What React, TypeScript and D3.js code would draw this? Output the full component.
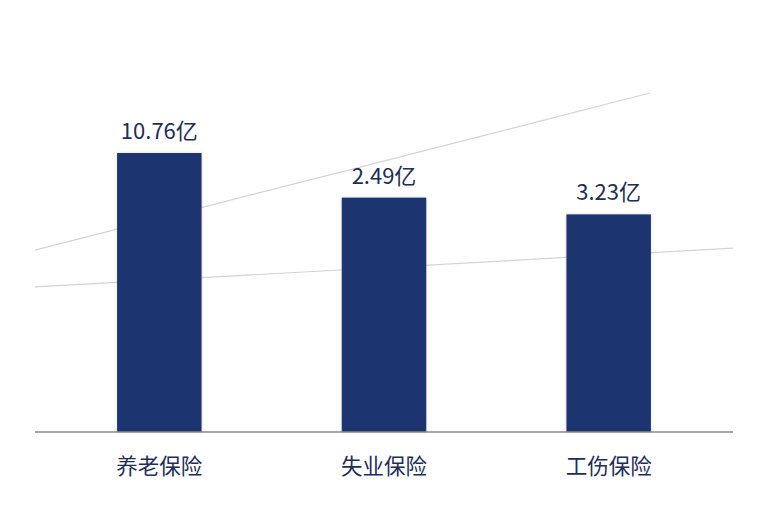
import { useEffect, useRef } from 'react'
import * as d3 from 'd3'

// categories and their labels
const categories = ['养老保险', '失业保险', '工伤保险']
const valueLabels = ['10.76亿', '2.49亿', '3.23亿']
// bar heights as drawn in the picture (relative index, tallest = 100)
const barLevels = [100, 84, 78]

// two thin decorative guide lines: [xFraction, level] endpoints
const guideLineA = [[0, 65.2], [0.881, 121.5]]
const guideLineB = [[0, 52.0], [1, 65.9]]

const WIDTH = 768
const HEIGHT = 512
const BAR_COLOR = '#1f3671'
const TEXT_COLOR = '#1d2d5c'
const FONT = '"Noto Sans CJK SC", "Noto Sans", sans-serif'

export default function App() {
  const svgRef = useRef<SVGSVGElement>(null)

  useEffect(() => {
    if (!svgRef.current) return
    const svg = d3.select(svgRef.current)
    svg.selectAll('*').remove()

    const left = 35
    const right = 733
    const baseline = 432

    const xBand = d3.scaleBand<string>()
      .domain(categories)
      .range([47, 721])
      .paddingInner(0.624)
      .paddingOuter(0.312)

    const xLine = d3.scaleLinear().domain([0, 1]).range([left, right])

    const yScale = d3.scaleLinear()
      .domain([0, 100])
      .range([baseline, 153])

    // soft shadow for bars
    const defs = svg.append('defs')
    const filter = defs.append('filter')
      .attr('id', 'barShadow')
      .attr('x', '-20%').attr('y', '-20%')
      .attr('width', '140%').attr('height', '140%')
    filter.append('feDropShadow')
      .attr('dx', 0).attr('dy', 0)
      .attr('stdDeviation', 1.5)
      .attr('flood-color', '#000')
      .attr('flood-opacity', 0.18)

    // guide lines
    const line = d3.line<number[]>()
      .x(d => xLine(d[0]))
      .y(d => yScale(d[1]))

    ;[guideLineA, guideLineB].forEach(pts => {
      svg.append('path')
        .datum(pts)
        .attr('d', line)
        .attr('fill', 'none')
        .attr('stroke', '#d4d4d4')
        .attr('stroke-width', 1.2)
    })

    // bars
    svg.selectAll('.bar')
      .data(categories)
      .enter().append('rect')
      .attr('class', 'bar')
      .attr('x', d => xBand(d)!)
      .attr('y', (d, i) => yScale(barLevels[i]))
      .attr('width', xBand.bandwidth())
      .attr('height', (d, i) => yScale(0) - yScale(barLevels[i]))
      .attr('fill', BAR_COLOR)
      .attr('filter', 'url(#barShadow)')

    // value labels
    svg.selectAll('.value')
      .data(categories)
      .enter().append('text')
      .attr('class', 'value')
      .attr('x', d => xBand(d)! + xBand.bandwidth() / 2)
      .attr('y', (d, i) => yScale(barLevels[i]) - 14)
      .attr('text-anchor', 'middle')
      .style('font-family', FONT)
      .style('font-size', '22px')
      .style('fill', TEXT_COLOR)
      .text((d, i) => valueLabels[i])

    // axis line
    svg.append('line')
      .attr('x1', left).attr('x2', right)
      .attr('y1', baseline).attr('y2', baseline)
      .attr('stroke', '#8a8a8a')
      .attr('stroke-width', 1.5)

    // category labels
    svg.selectAll('.cat')
      .data(categories)
      .enter().append('text')
      .attr('class', 'cat')
      .attr('x', d => xBand(d)! + xBand.bandwidth() / 2)
      .attr('y', baseline + 42)
      .attr('text-anchor', 'middle')
      .style('font-family', FONT)
      .style('font-size', '21.5px')
      .style('fill', TEXT_COLOR)
      .text(d => d)
  }, [])

  return (
    <svg
      ref={svgRef}
      width={WIDTH}
      height={HEIGHT}
      style={{ position: 'absolute', left: 0, top: 0, display: 'block', background: '#fff' }}
    />
  )
}
